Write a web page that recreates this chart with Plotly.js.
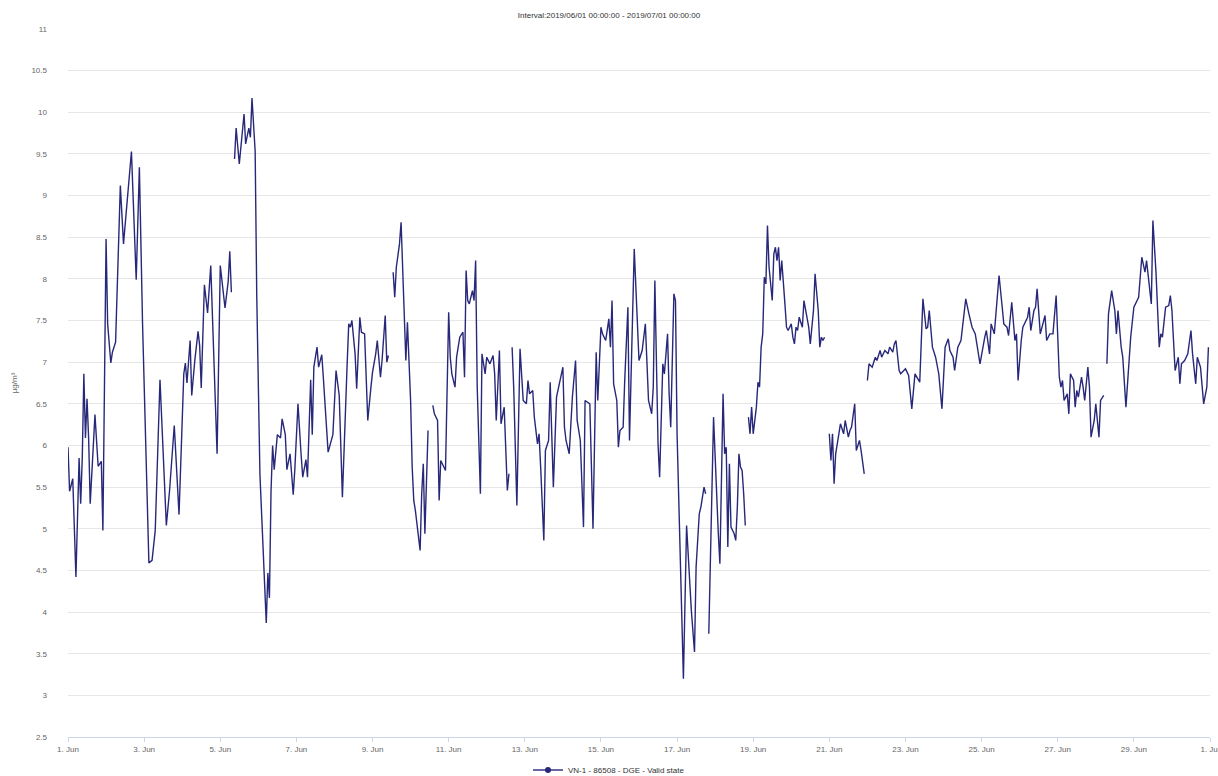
<!DOCTYPE html>
<html>
<head>
<meta charset="utf-8">
<script src="https://cdn.plot.ly/plotly-3.0.1.min.js"></script>
<style>
  html, body { margin: 0; padding: 0; background: #ffffff; }
  #chart { width: 1218px; height: 776px; }
</style>
</head>
<body>
<div id="chart"></div>
<script>
// Hours since 2019-06-01 00:00 (null value = gap in the record)
const hours = [
  0,1,3,5,7,8,9,10,11,12,13,14,17,19,21,22,24,25,27,28,30,33,35,40,43,45,47,50,51,53,55,58,60,62,64,67,70,73,74,75,77,78,80,82,83,84,86,88,90,92,94,96,98,99,101,102,103,
  104,
  105,106,108,111,112,114,115,116,118,119,121,123,124,125,126,127,128,129,130,132,134,135,137,138,140,142,143,145,147,148,150,151,153,154,155,157,158,160,161,164,167,169,171,173,176,177,178,179,181,182,184,185,187,188,189,191,192,194,195,197,198,200,201,202,
  203,
  205,206,207,209,210,212,213,214,216,217,218,219,221,222,223,224,225,227,
  228,
  230,231,233,234,235,237,238,240,241,242,244,245,247,249,250,251,252,253,255,256,257,258,260,261,263,264,266,268,269,270,272,273,275,277,278,
  279,
  280,281,283,285,287,289,290,291,293,294,296,297,298,300,301,303,304,306,308,309,311,312,313,314,316,318,320,321,323,325,326,328,329,331,333,334,336,337,339,341,342,343,344,346,347,348,350,351,353,354,357,360,362,364,365,366,368,369,370,372,373,374,375,376,378,379,380,382,383,384,387,388,390,391,392,393,395,396,398,399,401,402,
  403,
  404,407,410,411,413,414,415,416,417,418,420,421,422,423,424,425,426,427,
  428,
  429,430,431,432,434,435,436,437,438,439,440,441,442,444,445,446,447,448,449,450,452,453,454,456,457,458,459,460,461,463,464,466,467,468,470,471,473,474,475,476,477,
  478,
  480,481,482,483,484,486,487,489,490,492,493,494,496,497,499,500,502,
  503,
  504,505,507,509,510,512,513,515,517,518,520,521,522,524,525,528,530,532,534,535,537,539,541,542,543,545,547,549,551,553,555,556,558,559,561,563,566,568,570,572,574,575,578,579,581,582,584,585,587,589,590,592,593,595,597,598,599,601,602,605,606,607,609,610,611,613,614,616,617,619,621,623,625,626,627,628,630,631,632,634,635,636,637,639,640,641,643,644,645,647,648,650,651,653,
  654,
  655,656,658,660,661,662,664,665,667,669,670,672,674,675,677,679,680,681,683,684,686,688,689,690,692,694,695,696,698,700,701,702,704,706,708,709,711,712,714,716,718,719
];

// Concentration values, µg/m³
const values = [
  5.98,5.45,5.6,4.42,5.85,5.3,5.85,6.86,6.09,6.56,6.09,5.3,6.37,5.75,5.81,4.98,8.48,7.46,6.99,7.12,7.24,9.12,8.42,9.53,7.99,9.34,7.46,5.45,4.59,4.62,4.98,6.79,5.83,5.04,5.45,6.24,5.17,6.86,6.99,6.75,7.26,6.6,7.03,7.37,7.2,6.69,7.93,7.59,8.16,6.94,5.9,8.16,7.8,7.65,7.97,8.33,7.84,
  null,
  9.44,9.81,9.38,9.98,9.62,9.81,9.7,10.17,9.53,7.8,5.66,4.81,4.45,3.87,4.47,4.17,5.45,6.0,5.71,6.13,6.09,6.32,6.13,5.71,5.9,5.41,5.71,6.5,5.88,5.62,5.83,5.62,6.79,6.13,6.94,7.18,6.94,7.09,6.81,5.92,6.13,6.9,6.6,5.38,6.98,7.46,7.42,7.5,7.1,6.68,7.54,7.36,7.34,6.66,6.3,6.7,6.88,7.1,7.26,6.82,7.02,7.56,7.0,7.08,
  null,
  8.08,7.78,8.14,8.42,8.68,7.5,7.02,7.48,6.54,5.74,5.34,5.22,4.94,4.74,5.42,5.78,4.94,6.18,
  null,
  6.48,6.38,6.3,5.34,5.82,5.74,5.7,7.6,7.06,6.86,6.7,7.06,7.3,7.36,6.82,8.1,7.74,7.7,7.86,7.74,8.22,6.7,5.42,7.1,6.86,7.06,6.98,7.08,6.86,6.3,7.14,6.26,6.46,5.46,5.66,
  null,
  7.18,6.7,5.28,7.16,6.54,6.5,6.78,6.62,6.66,6.34,6.02,6.14,5.74,4.86,5.94,6.06,6.76,5.5,6.58,6.68,6.86,6.94,6.22,6.06,5.9,6.58,7.02,6.3,6.06,5.02,6.54,6.52,6.5,5.0,7.12,6.54,7.42,7.34,7.26,7.52,7.18,7.74,6.74,6.54,5.98,6.18,6.22,6.78,7.66,6.06,8.36,7.02,7.14,7.46,6.86,6.54,6.38,6.7,7.98,6.02,5.62,6.46,6.98,6.86,7.34,6.62,6.22,7.82,7.74,6.14,4.14,3.2,5.04,4.7,4.5,4.02,3.52,4.54,5.18,5.26,5.5,5.42,
  null,
  3.74,6.34,4.94,4.58,6.62,5.9,5.98,4.78,5.78,5.02,4.94,4.86,5.26,5.9,5.74,5.7,5.42,5.04,
  null,
  6.34,6.14,6.46,6.14,6.46,6.76,6.7,7.18,7.34,8.02,7.94,8.64,8.14,7.74,8.3,8.38,8.22,8.38,7.98,8.22,7.7,7.42,7.38,7.46,7.3,7.22,7.42,7.38,7.54,7.42,7.74,7.5,7.42,7.22,7.62,8.06,7.62,7.18,7.3,7.26,7.3,
  null,
  6.14,5.82,6.14,5.54,5.9,6.18,6.26,6.14,6.3,6.1,6.18,6.22,6.5,5.94,6.06,5.94,5.66,
  null,
  6.78,6.98,6.94,7.06,7.02,7.14,7.06,7.14,7.1,7.18,7.12,7.22,7.26,6.9,6.86,6.92,6.84,6.44,6.86,6.82,6.76,7.76,7.4,7.42,7.62,7.18,7.06,6.86,6.44,7.18,7.28,7.14,7.06,6.9,7.18,7.26,7.76,7.58,7.42,7.34,7.1,6.98,7.3,7.38,7.1,7.46,7.34,7.58,8.04,7.66,7.46,7.42,7.32,7.72,7.26,7.34,6.78,7.26,7.42,7.54,7.66,7.38,7.62,7.66,7.88,7.34,7.42,7.56,7.26,7.34,7.34,7.8,6.82,6.7,6.78,6.54,6.62,6.38,6.86,6.78,6.46,6.66,6.58,6.82,6.7,6.54,6.94,6.7,6.1,6.3,6.5,6.1,6.54,6.6,
  null,
  6.98,7.58,7.86,7.62,7.34,7.62,7.18,7.06,6.46,6.98,7.3,7.66,7.74,7.78,8.26,8.08,8.22,8.02,7.7,8.7,8.06,7.18,7.34,7.3,7.66,7.68,7.8,7.62,6.9,7.06,6.74,6.98,7.02,7.1,7.38,7.1,6.74,7.06,6.94,6.5,6.7,7.18
];

// Axis tick values and labels
const yTickVals = [2.5,3,3.5,4,4.5,5,5.5,6,6.5,7,7.5,8,8.5,9,9.5,10,10.5,11];
const yTickText = ['2.5','3','3.5','4','4.5','5','5.5','6','6.5','7','7.5','8','8.5','9','9.5','10','10.5','11'];
const xTickDates = ['2019-06-01','2019-06-03','2019-06-05','2019-06-07','2019-06-09','2019-06-11','2019-06-13','2019-06-15','2019-06-17','2019-06-19','2019-06-21','2019-06-23','2019-06-25','2019-06-27','2019-06-29','2019-07-01'];
const xTickText = ['1. Jun','3. Jun','5. Jun','7. Jun','9. Jun','11. Jun','13. Jun','15. Jun','17. Jun','19. Jun','21. Jun','23. Jun','25. Jun','27. Jun','29. Jun','1. Jul'];

const seriesName = 'VN-1 - 86508 - DGE - Valid state';
const chartTitle = 'Interval:2019/06/01 00:00:00 - 2019/07/01 00:00:00';

function pad(n) { return (n < 10 ? '0' : '') + n; }
function hourToDate(h) {
  const d = new Date(Date.UTC(2019, 5, 1, 0, 0, 0) + h * 3600000);
  return d.getUTCFullYear() + '-' + pad(d.getUTCMonth() + 1) + '-' + pad(d.getUTCDate()) +
         ' ' + pad(d.getUTCHours()) + ':00';
}
const xDates = hours.map(hourToDate);

const font = '"Liberation Sans", Arial, sans-serif';
const lineColor = '#28287a';

const trace = {
  x: xDates,
  y: values,
  type: 'scatter',
  mode: 'lines',
  name: seriesName,
  legendgroup: 'vn1',
  connectgaps: false,
  line: { color: lineColor, width: 1.4 },
  showlegend: false
};

// legend entry (line + circle symbol, like the original legend)
const legendEntry = {
  x: [null],
  y: [null],
  type: 'scatter',
  mode: 'lines+markers',
  name: seriesName,
  legendgroup: 'vn1',
  line: { color: lineColor, width: 1.4 },
  marker: { color: lineColor, size: 6, symbol: 'circle' },
  showlegend: true
};

const layout = {
  width: 1218,
  height: 776,
  paper_bgcolor: '#ffffff',
  plot_bgcolor: '#ffffff',
  margin: { l: 68, r: 8, t: 29, b: 39 },
  font: { family: font, size: 8, color: '#666666' },
  title: {
    text: chartTitle,
    font: { family: font, size: 8, color: '#333333' },
    x: 0.5, xanchor: 'center',
    y: 1 - 15 / 776, yref: 'container', yanchor: 'middle'
  },
  xaxis: {
    type: 'date',
    range: ['2019-06-01 00:00', '2019-07-01 00:00'],
    tickvals: xTickDates,
    ticktext: xTickText,
    ticklabeloverflow: 'allow',
    showgrid: false,
    zeroline: false,
    showline: true,
    linecolor: '#ccd6eb',
    linewidth: 1,
    ticks: 'outside',
    ticklen: 4,
    tickcolor: '#ccd6eb',
    tickfont: { family: font, size: 8, color: '#666666' }
  },
  yaxis: {
    range: [2.5, 11],
    tickvals: yTickVals,
    ticktext: yTickText,
    showgrid: true,
    gridcolor: '#e6e6e6',
    gridwidth: 1,
    zeroline: false,
    showline: false,
    ticks: '',
    ticklabelstandoff: 20,
    tickfont: { family: font, size: 8, color: '#666666' },
    title: { text: 'µg/m³', font: { family: font, size: 8, color: '#666666' }, standoff: 12 }
  },
  legend: {
    orientation: 'h',
    x: 0.5, xanchor: 'center',
    xref: 'container',
    y: 6 / 776, yanchor: 'middle',
    yref: 'container',
    font: { family: font, size: 8, color: '#333333' },
    bgcolor: 'rgba(0,0,0,0)'
  },
  showlegend: true
};

Plotly.newPlot('chart', [trace, legendEntry], layout, { displayModeBar: false, staticPlot: true });
</script>
</body>
</html>
